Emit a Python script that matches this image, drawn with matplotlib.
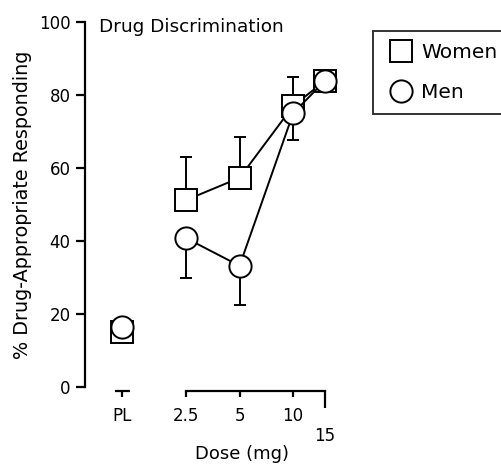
import numpy as np
import matplotlib
matplotlib.use("Agg")
import matplotlib.pyplot as plt
from matplotlib.lines import Line2D

plt.rcParams['font.family'] = ['DejaVu Sans']

# Données
doses = [2.5, 5, 10, 15]
pl_women, pl_men = 15.0, 16.5
women = [51.2, 57.3, 77.0, 83.8]
women_err = [11.8, 11.2, 8.0, 0.0]
men = [40.8, 33.2, 75.0, 83.8]
men_err = [11.0, 10.7, 7.3, 0.0]

pl_pos = 0.04   # position du placebo sur l'axe log
xpos = np.log10(doses)

fig = plt.figure(figsize=(5.01, 4.65), dpi=100)
ax = fig.add_axes([85 / 501, 78 / 465, 255 / 501, 365 / 465])
ax.set_xlim(-0.169, 1.263)
ax.set_ylim(0, 100)

ms = 16
lw = 1.4
sq = dict(marker='s', ms=ms, mfc='white', mec='black', mew=lw, color='black', lw=lw)
ci = dict(marker='o', ms=ms, mfc='white', mec='black', mew=lw, color='black', lw=lw)

# barres d'erreur : vers le haut pour les femmes, vers le bas pour les hommes
ax.errorbar(xpos, women, yerr=[np.zeros(4), women_err], fmt='none', ecolor='black',
            elinewidth=lw, capsize=4.5, capthick=lw, zorder=1)
ax.errorbar(xpos, men, yerr=[men_err, np.zeros(4)], fmt='none', ecolor='black',
            elinewidth=lw, capsize=4.5, capthick=lw, zorder=1)

ax.plot(xpos, women, zorder=2, **sq)
ax.plot(xpos, men, zorder=3, **ci)
ax.plot([pl_pos], [pl_women], zorder=2, **sq)
ax.plot([pl_pos], [pl_men], zorder=3, **ci)

# axes
for s in ['top', 'right']:
    ax.spines[s].set_visible(False)
ax.spines['left'].set_linewidth(1.6)
ax.spines['bottom'].set_linewidth(1.6)
ax.spines['bottom'].set_bounds(xpos[0], xpos[-1])
ax.spines['bottom'].set_position(('outward', 3))
# petit segment d'axe pour le placebo
ax.plot([pl_pos - 0.042, pl_pos + 0.042], [-1.1, -1.1], color='black', lw=1.6,
        clip_on=False, solid_capstyle='butt')

ax.set_yticks([0, 20, 40, 60, 80, 100])
ax.set_xticks([pl_pos] + list(xpos[:3]))
ax.set_xticklabels(['PL', '2.5', '5', '10'])
ax.set_xticks([xpos[3]], minor=True)
ax.set_xticklabels(['15'], minor=True)
ax.tick_params(axis='y', direction='out', length=6.5, width=1.6, labelsize=12, pad=4)
ax.tick_params(axis='x', which='major', direction='out', length=4.5, width=1.6,
               labelsize=12, pad=7)
ax.tick_params(axis='x', which='minor', direction='out', length=12, width=1.6,
               labelsize=12, pad=14)

ax.set_xlabel('Dose (mg)', fontsize=13, va='top')
ax.xaxis.set_label_coords(0.616, -0.159)
ax.set_ylabel('% Drug-Appropriate Responding', fontsize=13.8, va='center')
ax.yaxis.set_label_coords(-0.247, 0.5)
ax.text(0.055, 1.011, 'Drug Discrimination', transform=ax.transAxes, fontsize=13.3,
        ha='left', va='top')

handles = [Line2D([], [], ls='none', marker='s', ms=ms, mfc='white', mec='black', mew=lw),
           Line2D([], [], ls='none', marker='o', ms=ms, mfc='white', mec='black', mew=lw)]
leg = fig.legend(handles, ['Women', 'Men'], loc='upper left',
                 bbox_to_anchor=(373 / 501, 1 - 31 / 465), fontsize=14.5,
                 frameon=True, fancybox=False, edgecolor='black', handlelength=1.6,
                 handletextpad=0.2, borderpad=0.6, labelspacing=1.05, borderaxespad=0)
leg.get_frame().set_linewidth(1.4)

fig.savefig('out.png', dpi=100)
